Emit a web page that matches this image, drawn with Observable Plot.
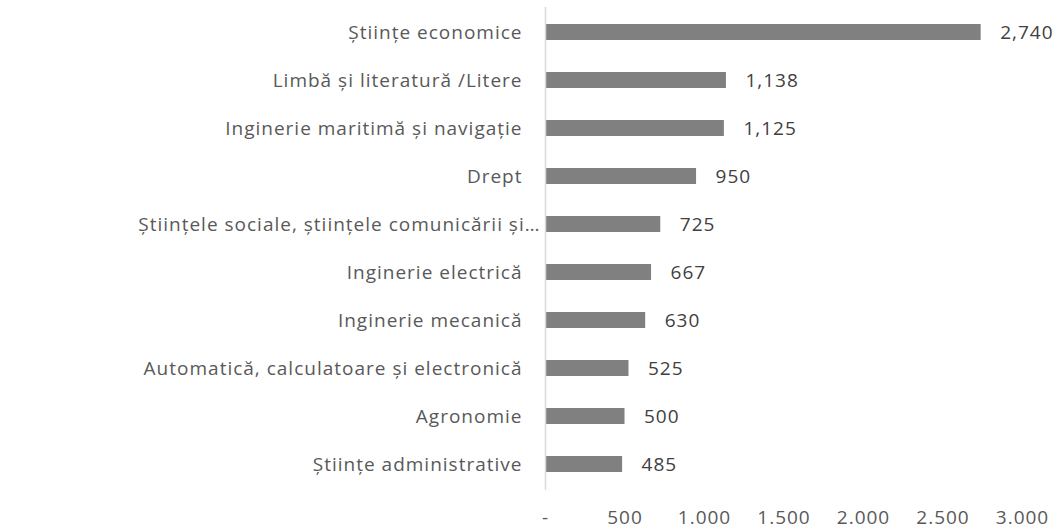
<!DOCTYPE html>
<html>
<head>
<meta charset="utf-8">
<script src="https://cdn.jsdelivr.net/npm/d3@7"></script>
<script src="https://cdn.jsdelivr.net/npm/@observablehq/plot@0.6"></script>
<style>
  html, body { margin: 0; padding: 0; background: #ffffff; }
  #chart { width: 1059px; height: 529px; overflow: hidden; }
</style>
</head>
<body>
<div id="chart"></div>
<script>
const categories = [
  "Științe economice",
  "Limbă și literatură /Litere",
  "Inginerie maritimă și navigație",
  "Drept",
  "Științele sociale, științele comunicării și…",
  "Inginerie electrică",
  "Inginerie mecanică",
  "Automatică, calculatoare și electronică",
  "Agronomie",
  "Științe administrative"
];
const values = [2740, 1138, 1125, 950, 725, 667, 630, 525, 500, 485];
const xTicks = [0, 500, 1000, 1500, 2000, 2500, 3000];
const xTickLabels = ["-", "500", "1.000", "1.500", "2.000", "2.500", "3.000"];

const data = categories.map((c, i) => ({category: c, value: values[i]}));
const fmt = d3.format(",");
const truncated = categories.filter(c => c.endsWith("…"));
const regular = categories.filter(c => !c.endsWith("…"));

const chart = Plot.plot({
  width: 1059,
  height: 529,
  marginLeft: 545,
  marginRight: 37,
  marginTop: 7,
  marginBottom: 39,
  style: {fontFamily: "'Open Sans', sans-serif", fontSize: "19px", letterSpacing: "1px", color: "#595959", background: "#ffffff"},
  x: {domain: [0, 3000], label: null},
  y: {domain: categories, paddingInner: 0.66, paddingOuter: 0.3, label: null},
  marks: [
    Plot.axisX({ticks: xTicks, tickFormat: (d) => xTickLabels[xTicks.indexOf(d)], tickSize: 0, tickPadding: 20, label: null, fill: "#595959", fontSize: 19}),
    Plot.axisY({ticks: regular, tickSize: 0, tickPadding: 23, label: null, fill: "#595959", fontSize: 19, textOverflow: null}),
    Plot.axisY({ticks: truncated, tickSize: 0, tickPadding: 5, label: null, fill: "#595959", fontSize: 19, textOverflow: null}),
    Plot.barX(data, {x: "value", y: "category", fill: "#808080"}),
    Plot.ruleX([0], {stroke: "#d9d9d9", strokeWidth: 1.5}),
    Plot.text(data, {x: "value", y: "category", text: d => fmt(d.value), dx: 19, textAnchor: "start", fill: "#404040", fontSize: 19})
  ]
});
document.getElementById("chart").appendChild(chart);
</script>
</body>
</html>
